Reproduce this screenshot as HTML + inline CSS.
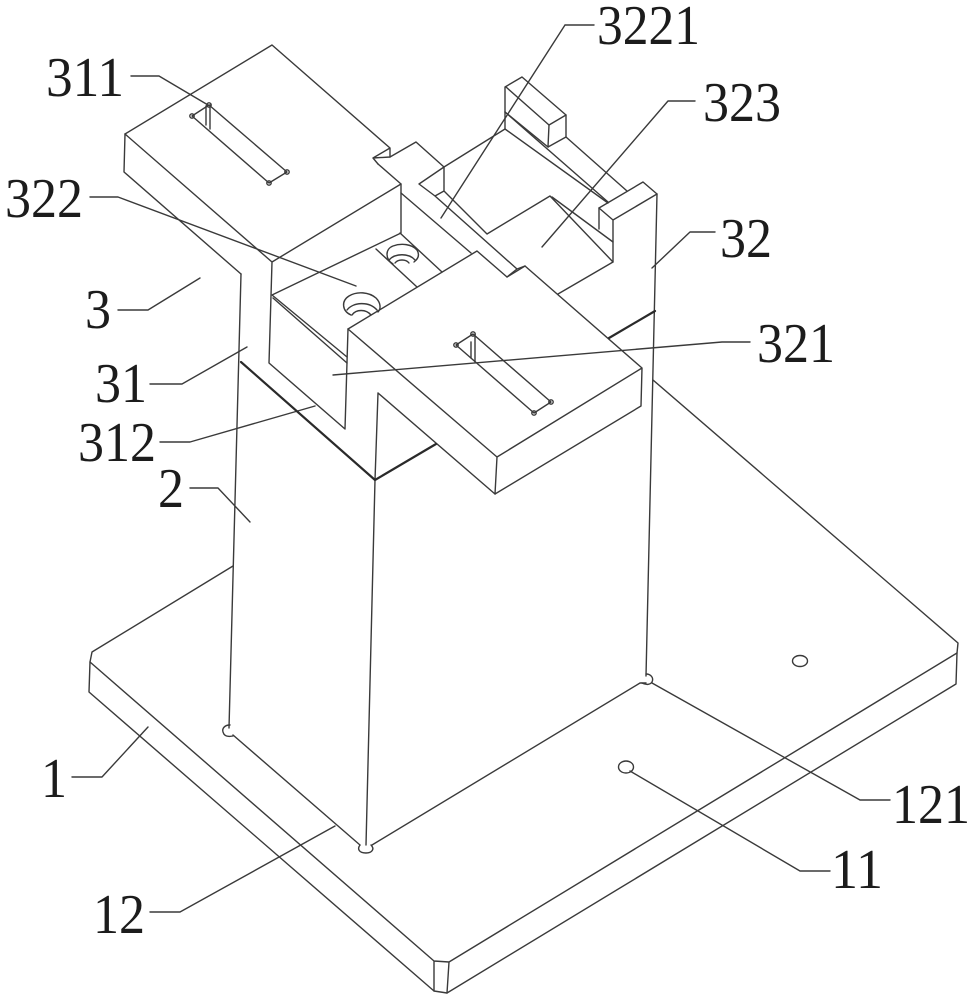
<!DOCTYPE html>
<html><head><meta charset="utf-8"><style>
html,body{margin:0;padding:0;background:#fff}
svg{display:block}
text{font-family:"Liberation Serif",serif;font-size:56px;fill:#1c1c1c}
.s{fill:none;stroke:#3a3a3a;stroke-width:1.4;stroke-linejoin:round;stroke-linecap:round}
.t{fill:none;stroke:#2a2a2a;stroke-width:2.2;stroke-linecap:round}
</style></head><body>
<svg width="974" height="1000" viewBox="0 0 974 1000" xmlns="http://www.w3.org/2000/svg">
<g class="s">
<!-- base -->
<path d="M233 566L92 652L90 662L89 692L434 991L447 993L956 684L957 653L958 643L653 380"/>
<path d="M90 662L434 961L449 962L957 653M434 961V991M449 962L447 993"/>
<!-- holes -->
<ellipse cx="800" cy="661" rx="7.5" ry="5.5"/>
<ellipse cx="626" cy="767" rx="7.5" ry="6"/>
<path d="M230 725C224 725 222 729 223 732C224 736 228 737 233 736"/>
<path d="M360 845C357 849 359 853 366 853C372 853 375 849 371 845"/>
<path d="M646 674C651 674 654 678 652 682C650 685 646 685 642 683"/>
<!-- column -->
<path d="M241 274L229 728M233 735L360 845M375 480L366 845M372 845L640 683L646 683M657 194L646 676"/>
<!-- left block -->
<path d="M125 134L272 45L390 148V157L373 158L378 164M390 148L373 158"/>
<path d="M125 134L272 262L401 184M125 134L124 172L241 274M272 262L269 363L345 429L348 329"/>
<path d="M378 164L401 184V233L272 295L347 357M273 298L347 363"/>
<path d="M401 193L471 253M400 233L442 272M376 249L417 287"/>
<!-- left slot -->
<path d="M192 116L209 105L287 172L269 183Z"/>
<path d="M206 106V125M210 105V129"/>
<circle cx="192" cy="116" r="2.2"/><circle cx="209" cy="105" r="2.2"/><circle cx="287" cy="172" r="2.2"/><circle cx="269" cy="183" r="2.2"/>
<!-- counterbores -->
<path d="M351 315C342 311 341 301 349 296C357 291 369 292 376 298C381 303 381 309 378 312"/>
<path d="M347 310C353 302 369 301 377 310M352 315C356 309 366 309 371 315"/>
<path d="M393 264C385 259 385 249 393 246C401 243 412 244 417 250C420 255 418 259 414 262"/>
<path d="M389 260C395 253 409 253 415 260M395 263C398 259 406 259 409 263"/>
<!-- right block -->
<path d="M348 329L477 251L507 277L525 266L642 368L641 406L495 494L497 457L642 368M348 329L497 457"/>
<path d="M378 393L495 494M378 393L375 480"/>
<!-- right slot -->
<path d="M456 345L473 334L551 402L534 413Z"/>
<path d="M471 342V358M475 334V362"/>
<circle cx="456" cy="345" r="2.2"/><circle cx="473" cy="334" r="2.2"/><circle cx="551" cy="402" r="2.2"/><circle cx="534" cy="413" r="2.2"/>
<!-- rear fixture -->
<path d="M390 157L416 142L444 167L505 129V87L522 77L566 115V137L548 147L549 125L506 87"/>
<path d="M549 125L566 115M505 112L548 147M566 137L627 191M505 129L608 203"/>
<path d="M505 112L608 202"/>
<path d="M444 167L419 184L435 196L444 191V167M444 191L487 234L550 196L613 262M435 196L517 269L507 277M517 269L525 266"/>
<path d="M552 197L613 242M599 208V229"/>
<path d="M599 208L643 182L657 194L613 220L613 262L558 294M599 208L613 220"/>
<!-- leaders -->
<path d="M131 76H159L208 105"/>
<path d="M565 25L441 218M565 25H594"/>
<path d="M695 101H668L542 247"/>
<path d="M715 232H690L652 268"/>
<path d="M90 197H118L356 286"/>
<path d="M118 310H148L200 278"/>
<path d="M150 384H182L247 347"/>
<path d="M160 442H190L315 406"/>
<path d="M750 342H722L333 375"/>
<path d="M190 488H218L250 522"/>
<path d="M72 777H102L148 727"/>
<path d="M150 912H180L335 826"/>
<path d="M652 683L860 800H890"/>
<path d="M630 771L800 871H830"/>
</g>
<g class="t">
<path d="M241 362L375 480L436 444M609 338L655 311"/>
</g>
<g lengthAdjust="spacingAndGlyphs">
<text x="46" y="96" textLength="78" lengthAdjust="spacingAndGlyphs">311</text>
<text x="597" y="44" textLength="103" lengthAdjust="spacingAndGlyphs">3221</text>
<text x="703" y="121" textLength="78" lengthAdjust="spacingAndGlyphs">323</text>
<text x="5" y="217" textLength="78" lengthAdjust="spacingAndGlyphs">322</text>
<text x="720" y="257" textLength="52" lengthAdjust="spacingAndGlyphs">32</text>
<text x="85" y="328" textLength="26" lengthAdjust="spacingAndGlyphs">3</text>
<text x="95" y="402" textLength="52" lengthAdjust="spacingAndGlyphs">31</text>
<text x="757" y="362" textLength="78" lengthAdjust="spacingAndGlyphs">321</text>
<text x="78" y="461" textLength="78" lengthAdjust="spacingAndGlyphs">312</text>
<text x="158" y="507" textLength="26" lengthAdjust="spacingAndGlyphs">2</text>
<text x="41" y="797" textLength="26" lengthAdjust="spacingAndGlyphs">1</text>
<text x="93" y="933" textLength="52" lengthAdjust="spacingAndGlyphs">12</text>
<text x="892" y="823" textLength="78" lengthAdjust="spacingAndGlyphs">121</text>
<text x="831" y="888" textLength="52" lengthAdjust="spacingAndGlyphs">11</text>
</g>
</svg>
</body></html>
